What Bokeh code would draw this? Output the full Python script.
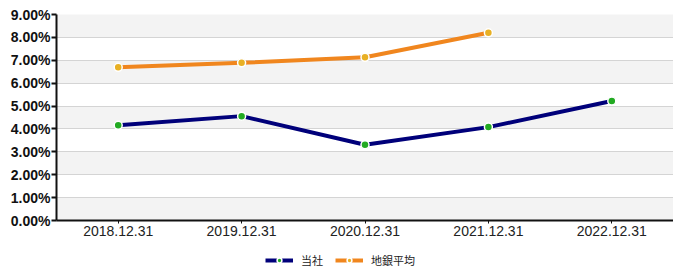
from bokeh.plotting import figure
from bokeh.layouts import column
from bokeh.models import (ColumnDataSource, FactorRange, Range1d, Legend, LegendItem,
                          FixedTicker, CustomJSTickFormatter)
from bokeh.embed import file_html
from bokeh.resources import INLINE

categories = ["2018.12.31", "2019.12.31", "2020.12.31", "2021.12.31", "2022.12.31"]
own_values = [4.16, 4.56, 3.31, 4.08, 5.22]
avg_categories = ["2018.12.31", "2019.12.31", "2020.12.31", "2021.12.31"]
avg_values = [6.69, 6.89, 7.13, 8.20]
y_ticks = [0, 1, 2, 3, 4, 5, 6, 7, 8, 9]
series_names = ["当社", "地銀平均"]

own_src = ColumnDataSource(dict(x=categories, y=own_values))
avg_src = ColumnDataSource(dict(x=avg_categories, y=avg_values))

p = figure(x_range=FactorRange(*categories, range_padding=0), y_range=Range1d(0, 9),
           output_backend="svg", toolbar_location=None,
           min_border_left=56, min_border_right=0, min_border_top=14, min_border_bottom=0)
p.frame_width = 617
p.frame_height = 206
p.background_fill_color = "#f3f3f3"
p.border_fill_color = "white"
p.outline_line_color = None

p.xgrid.grid_line_color = None
p.ygrid.ticker = FixedTicker(ticks=y_ticks)
p.ygrid.grid_line_color = "#d4d4d4"
p.ygrid.grid_line_width = 1
p.ygrid.band_fill_color = "white"
p.ygrid.band_fill_alpha = 1.0

p.yaxis.ticker = FixedTicker(ticks=y_ticks)
p.yaxis.formatter = CustomJSTickFormatter(code="return tick.toFixed(2) + '%';")
p.yaxis.major_label_text_font = "Liberation Sans"
p.yaxis.major_label_text_font_style = "bold"
p.yaxis.major_label_text_font_size = "14px"
p.yaxis.major_label_text_color = "#111111"
p.yaxis.axis_line_width = 2
p.yaxis.axis_line_color = "#111111"
p.yaxis.major_tick_line_color = "#111111"
p.yaxis.major_tick_line_width = 2
p.yaxis.major_tick_out = 5
p.yaxis.major_tick_in = 0
p.yaxis.minor_tick_line_color = None
p.yaxis.major_label_standoff = 1

p.xaxis.major_label_text_font = "Liberation Sans"
p.xaxis.major_label_text_font_size = "14px"
p.xaxis.major_label_text_color = "#222222"
p.xaxis.axis_line_width = 2
p.xaxis.axis_line_color = "#111111"
p.xaxis.major_tick_line_color = "#111111"
p.xaxis.major_tick_out = 3
p.xaxis.major_tick_in = 0
p.xaxis.major_label_standoff = 2

p.line("x", "y", source=own_src, line_color="#00007a", line_width=4)
p.scatter("x", "y", source=own_src, size=8, fill_color="#22aa22", line_color="white", line_width=1.5)
p.line("x", "y", source=avg_src, line_color="#f0861e", line_width=4)
p.scatter("x", "y", source=avg_src, size=8, fill_color="#e8b024", line_color="white", line_width=1.5)

# legend strip: same series, drawn off-view so only the legend shows
leg = figure(x_range=FactorRange(*categories, range_padding=0), y_range=Range1d(100, 101),
             width=665, height=34, output_backend="svg", toolbar_location=None,
             x_axis_location=None, y_axis_location=None,
             min_border_left=0, min_border_right=0, min_border_top=0, min_border_bottom=0)
leg.grid.visible = False
leg.outline_line_color = None
leg.background_fill_color = "white"
k1 = leg.line("x", "y", source=own_src, line_color="#00007a", line_width=4)
k1b = leg.scatter("x", "y", source=own_src, size=8, fill_color="#22aa22", line_color="white", line_width=1.5)
k2 = leg.line("x", "y", source=avg_src, line_color="#f0861e", line_width=4)
k2b = leg.scatter("x", "y", source=avg_src, size=8, fill_color="#e8b024", line_color="white", line_width=1.5)

legend = Legend(items=[LegendItem(label=series_names[0], renderers=[k1, k1b]),
                       LegendItem(label=series_names[1], renderers=[k2, k2b])],
                orientation="horizontal", location=(209, 4),
                label_text_font="Noto Sans CJK JP", label_text_font_size="11px",
                label_text_color="#222222", glyph_width=28, glyph_height=12,
                label_height=12, spacing=12, padding=0, margin=0, border_line_color=None,
                label_standoff=8, background_fill_alpha=0)
leg.add_layout(legend, "center")

layout = column(p, leg, spacing=0)
open("out.html", "w").write(file_html(layout, INLINE))
